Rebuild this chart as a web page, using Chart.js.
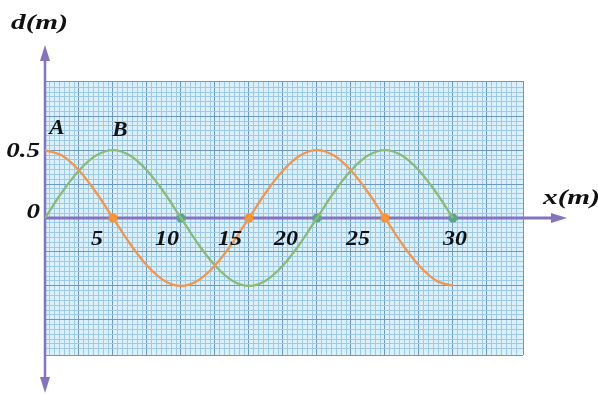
<!DOCTYPE html>
<html>
<head>
<meta charset="utf-8">
<script src="https://cdn.jsdelivr.net/npm/chart.js@4"></script>
<style>
  html, body { margin: 0; padding: 0; background: #fff; }
</style>
</head>
<body>
<canvas id="waveChart" width="598" height="394"></canvas>
<script>
// positions along the rope (m)
const xValues = [0, 1.25, 2.5, 3.75, 5, 6.25, 7.5, 8.75, 10, 11.25, 12.5, 13.75, 15,
                 16.25, 17.5, 18.75, 20, 21.25, 22.5, 23.75, 25, 26.25, 27.5, 28.75, 30];
// displacement of wave A (m)
const waveA = [0.50, 0.46, 0.35, 0.19, 0, -0.19, -0.35, -0.46, -0.50, -0.46, -0.35, -0.19, 0,
               0.19, 0.35, 0.46, 0.50, 0.46, 0.35, 0.19, 0, -0.19, -0.35, -0.46, -0.50];
// displacement of wave B (m)
const waveB = [0, 0.19, 0.35, 0.46, 0.50, 0.46, 0.35, 0.19, 0, -0.19, -0.35, -0.46, -0.50,
               -0.46, -0.35, -0.19, 0, 0.19, 0.35, 0.46, 0.50, 0.46, 0.35, 0.19, 0];
// zero crossings marked with dots
const nodesA = [5, 15, 25];
const nodesB = [10, 20, 30];
// axis labels
const xTickValues = [5, 10, 15, 20, 25, 30];
const yTickValues = [0.5, 0];
const curveNames = ["A", "B"];

const ORANGE = "#f2974a";
const GREEN = "#89bb74";
const AXIS = "#8474c0";
const INK = "#111";
const FONT = 'italic bold 20px "Liberation Serif", "DejaVu Serif", serif';
const TITLE_FONT = 'italic bold 22px "Liberation Serif", "DejaVu Serif", serif';

const xStep = 2.5 / 7;
const yStep = 0.25 / 7;

function gridColor(step) {
    return (c) => {
        const n = Math.round(c.tick.value / step);
        return n % 7 === 0 ? "#6f97c4" : "#9dcaea";
    };
}

// text drawn a little wider than the font's natural width
function wideText(ctx, text, x, y, sx) {
    ctx.save();
    ctx.translate(x, y);
    ctx.scale(sx, 1);
    ctx.fillText(text, 0, 0);
    ctx.restore();
}

// light paper behind the grid
const paper = {
    id: "paper",
    beforeDraw(chart) {
        const { ctx, chartArea: a } = chart;
        ctx.save();
        ctx.fillStyle = "#dcf0fa";
        ctx.fillRect(a.left, a.top, a.right - a.left, a.bottom - a.top);
        ctx.restore();
    },
};

// axes with arrows, drawn over the grid and under the curves
const arrowAxes = {
    id: "arrowAxes",
    beforeDatasetsDraw(chart) {
        const { ctx, scales } = chart;
        const x0 = scales.x.getPixelForValue(0);
        const y0 = scales.y.getPixelForValue(0);
        ctx.save();
        ctx.strokeStyle = AXIS;
        ctx.fillStyle = AXIS;
        ctx.lineWidth = 3;
        ctx.beginPath();
        ctx.moveTo(x0, y0);
        ctx.lineTo(556, y0);
        ctx.stroke();
        ctx.beginPath();
        ctx.moveTo(567, y0);
        ctx.lineTo(551, y0 - 5);
        ctx.lineTo(551, y0 + 5);
        ctx.closePath();
        ctx.fill();

        ctx.lineWidth = 2.5;
        ctx.beginPath();
        ctx.moveTo(x0, 58);
        ctx.lineTo(x0, 382);
        ctx.stroke();
        ctx.beginPath();
        ctx.moveTo(x0, 45);
        ctx.lineTo(x0 - 5, 61);
        ctx.lineTo(x0 + 5, 61);
        ctx.closePath();
        ctx.fill();
        ctx.beginPath();
        ctx.moveTo(x0, 393);
        ctx.lineTo(x0 - 5, 377);
        ctx.lineTo(x0 + 5, 377);
        ctx.closePath();
        ctx.fill();
        ctx.restore();
    },
    afterDraw(chart) {
        const { ctx, scales } = chart;
        const xs = scales.x, ys = scales.y;
        ctx.save();
        ctx.fillStyle = INK;
        ctx.font = FONT;
        ctx.textAlign = "center";
        ctx.textBaseline = "middle";

        // tick labels along x, nudged clear of the curves
        const xShift = [-16, -14, -19, -31, -27, 2];
        xTickValues.forEach((v, i) => {
            wideText(ctx, String(v), xs.getPixelForValue(v) + xShift[i], ys.getPixelForValue(0) + 22, 1.2);
        });

        ctx.textAlign = "right";
        const yShift = [2, -5];
        yTickValues.forEach((v, i) => {
            wideText(ctx, String(v), xs.getPixelForValue(0) - 5, ys.getPixelForValue(v) + yShift[i], 1.35);
        });

        // curve names above their first crest
        ctx.textAlign = "center";
        wideText(ctx, curveNames[0], xs.getPixelForValue(0) + 12, ys.getPixelForValue(waveA[0]) - 21, 1.15);
        wideText(ctx, curveNames[1], xs.getPixelForValue(5) + 7, ys.getPixelForValue(0.5) - 19, 1.15);

        // axis titles
        ctx.font = TITLE_FONT;
        ctx.textAlign = "left";
        wideText(ctx, "d(m)", 11, 23, 1.33);
        wideText(ctx, "x(m)", 543, ys.getPixelForValue(0) - 20, 1.33);
        ctx.restore();
    },
};

const curveA = xValues.map((x, i) => ({ x, y: waveA[i] }));
const curveB = xValues.map((x, i) => ({ x, y: waveB[i] }));

new Chart(document.getElementById("waveChart"), {
    type: "scatter",
    data: {
        datasets: [
            {
                label: "A",
                data: curveA,
                showLine: true,
                borderColor: ORANGE,
                borderWidth: 2.3,
                pointRadius: 0,
                cubicInterpolationMode: "monotone",
            },
            {
                label: "B",
                data: curveB,
                showLine: true,
                borderColor: GREEN,
                borderWidth: 2.3,
                pointRadius: 0,
                cubicInterpolationMode: "monotone",
            },
            {
                label: "A nodes",
                data: nodesA.map((x) => ({ x, y: 0 })),
                pointRadius: 4.5,
                pointBackgroundColor: "#f7931e",
                pointBorderWidth: 0,
            },
            {
                label: "B nodes",
                data: nodesB.map((x) => ({ x, y: 0 })),
                pointRadius: 4.5,
                pointBackgroundColor: "#5aa487",
                pointBorderWidth: 0,
            },
        ],
    },
    options: {
        responsive: false,
        animation: false,
        devicePixelRatio: 1,
        layout: { padding: { left: 45, right: 75, top: 81, bottom: 39 } },
        plugins: { legend: { display: false }, tooltip: { enabled: false } },
        scales: {
            x: {
                type: "linear",
                min: 0,
                max: 35.15,
                ticks: { display: false, stepSize: xStep },
                grid: { drawTicks: false, color: gridColor(xStep), lineWidth: 1 },
                border: { display: false },
            },
            y: {
                type: "linear",
                min: -1.01,
                max: 1.01,
                ticks: { display: false, stepSize: yStep },
                grid: { drawTicks: false, color: gridColor(yStep), lineWidth: 1 },
                border: { display: false },
            },
        },
    },
    plugins: [paper, arrowAxes],
});
</script>
</body>
</html>
